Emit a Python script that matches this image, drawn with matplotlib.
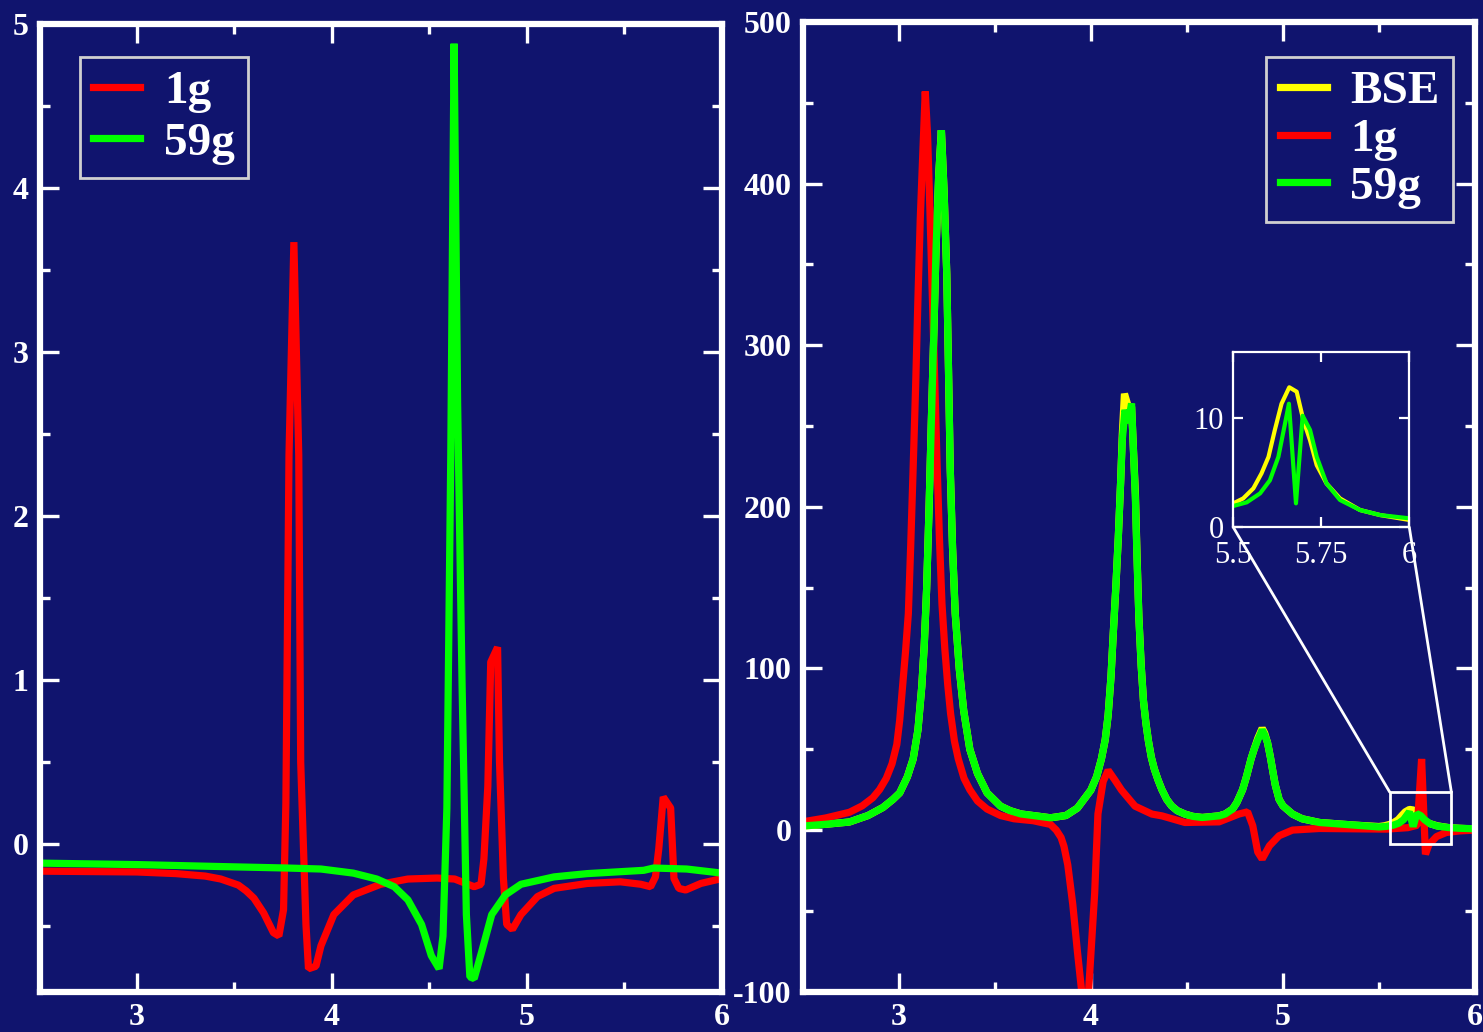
import matplotlib

matplotlib.use("Agg")
import matplotlib.pyplot as plt
from matplotlib.ticker import MultipleLocator
from matplotlib.patches import Rectangle, ConnectionPatch

# ---- left panel data
left_1g_x = [2.5, 2.8, 3.0, 3.2, 3.35, 3.43, 3.52, 3.56, 3.60, 3.65, 3.70,
             3.728, 3.752, 3.764, 3.78, 3.805, 3.83, 3.84, 3.867, 3.88, 3.918,
             3.944, 4.01, 4.11, 4.25, 4.39, 4.54, 4.63, 4.73, 4.765, 4.78,
             4.80, 4.815, 4.85, 4.86, 4.88, 4.897, 4.926, 4.97, 5.055, 5.14,
             5.31, 5.48, 5.585, 5.635, 5.66, 5.677, 5.70, 5.738, 5.755, 5.78,
             5.815, 5.893, 6.0]
left_1g_y = [-0.165, -0.168, -0.17, -0.18, -0.195, -0.213, -0.25, -0.285, -0.33, -0.42, -0.54,
             -0.56, -0.40, 0.25, 2.37, 3.67, 2.37, 0.50, -0.49, -0.76, -0.745,
             -0.62, -0.43, -0.31, -0.245, -0.213, -0.207, -0.213, -0.26, -0.245, -0.09,
             0.35, 1.11, 1.20, 0.50, -0.21, -0.49, -0.52, -0.43, -0.32, -0.27,
             -0.24, -0.23, -0.245, -0.26, -0.2, -0.03, 0.287, 0.22, -0.21, -0.27,
             -0.28, -0.24, -0.21]

left_59g_x = [2.5, 3.0, 3.43, 3.77, 3.944, 4.11, 4.23, 4.32, 4.39, 4.46,
              4.51, 4.55, 4.57, 4.59, 4.61, 4.627, 4.645, 4.668, 4.69, 4.708,
              4.73, 4.77, 4.82, 4.89, 4.97, 5.14, 5.31, 5.6, 5.65, 5.82,
              6.0]
left_59g_y = [-0.116, -0.125, -0.137, -0.146, -0.152, -0.177, -0.213, -0.26, -0.34, -0.49,
              -0.68, -0.76, -0.56, 0.22, 2.37, 4.88, 2.69, 0.97, -0.43, -0.81,
              -0.82, -0.65, -0.43, -0.31, -0.245, -0.2, -0.18, -0.16, -0.146, -0.152,
              -0.177]

# ---- right panel data
right_bse_x = [2.5, 2.62, 2.743, 2.84, 2.918, 2.97, 3.005, 3.045, 3.075, 3.10,
               3.12, 3.133, 3.145, 3.158, 3.17, 3.182, 3.194, 3.208, 3.222, 3.236,
               3.25, 3.259, 3.268, 3.28, 3.294, 3.315, 3.338, 3.37, 3.41, 3.46,
               3.53, 3.58, 3.635, 3.79, 3.87, 3.93, 4.0, 4.03, 4.055, 4.075,
               4.09, 4.105, 4.116, 4.13, 4.143, 4.155, 4.164, 4.175, 4.195, 4.212,
               4.232, 4.24, 4.25, 4.262, 4.274, 4.287, 4.30, 4.315, 4.33, 4.35,
               4.37, 4.395, 4.42, 4.45, 4.49, 4.53, 4.58, 4.668, 4.70, 4.738,
               4.76, 4.79, 4.81, 4.834, 4.85, 4.87, 4.892, 4.905, 4.92, 4.935,
               4.948, 4.96, 4.98, 5.0, 5.05, 5.1, 5.19, 5.37,
               5.5, 5.528, 5.557, 5.58, 5.6, 5.618, 5.637, 5.659, 5.68, 5.699,
               5.718, 5.737, 5.765, 5.803, 5.86, 5.917, 6.0]
right_bse_y = [2.5, 3.6, 5, 9, 14, 19, 23, 33, 44, 62,
               89, 115, 149, 200, 254, 305, 359, 405, 433, 395,
               344, 285, 224, 175, 134, 100, 74, 50, 35, 23,
               14.8, 12, 10, 7.6, 9, 13.6, 24.7, 33, 44, 56,
               71, 95, 120, 150, 181, 215, 245, 270, 262, 262,
               208, 172, 132, 102, 80, 66, 55, 45, 38, 31,
               25, 19, 15, 12, 9.9, 8.5, 7.8, 8.8, 10, 13,
               17, 25, 33, 44, 50, 57, 63, 60, 54, 45,
               36, 28, 19, 15, 9.9, 7, 4.7, 3.1,
               2.19, 2.64, 3.56, 4.92, 6.44, 8.9, 11.3, 12.8, 12.4, 9.8,
               7.96, 5.68, 4.0, 2.64, 1.58, 1.12, 0.67]

right_1g_x = [2.5, 2.62, 2.743, 2.81, 2.865, 2.90, 2.935, 2.965, 2.99, 3.005,
              3.02, 3.035, 3.05, 3.062, 3.075, 3.088, 3.10, 3.112, 3.125, 3.138,
              3.15, 3.162, 3.175, 3.188, 3.20, 3.212, 3.225, 3.24, 3.255, 3.27,
              3.29, 3.31, 3.34, 3.37, 3.41, 3.46, 3.53, 3.60, 3.70, 3.75,
              3.79, 3.82, 3.845, 3.86, 3.88, 3.906, 3.93, 3.958, 3.985, 4.02,
              4.037, 4.064, 4.09, 4.125, 4.16, 4.23, 4.318, 4.37, 4.49, 4.668,
              4.77, 4.816, 4.843, 4.869, 4.892, 4.93, 4.98, 5.05, 5.19, 5.54,
              5.65, 5.70, 5.722, 5.742, 5.76, 5.80, 5.85, 5.92, 6.0]
right_1g_y = [5.1, 7.5, 11, 15, 20, 25, 32, 41, 53, 68,
              89, 110, 134, 175, 224, 275, 329, 378, 418, 457,
              430, 385, 330, 275, 225, 180, 140, 112, 90, 72,
              55, 44, 32, 25, 18, 13, 9, 7, 5.8, 4.5,
              3.5, 0, -4.6, -10, -21.6, -46, -75, -106, -106, -39,
              10, 30, 37, 31, 24.7, 14.8, 9.9, 8.8, 4.7, 5.1,
              9.9, 11.3, 2.7, -13.6, -17.9, -9.7, -3.5, 0, 1, 0.6,
              1.5, 3, 44, -15, -9, -4, -1.5, -0.5, 0]

right_59g_x = [2.5, 2.62, 2.743, 2.84, 2.918, 2.97, 3.005, 3.045, 3.075, 3.10,
               3.12, 3.133, 3.145, 3.158, 3.17, 3.182, 3.194, 3.208, 3.222, 3.236,
               3.25, 3.259, 3.268, 3.28, 3.294, 3.315, 3.338, 3.37, 3.41, 3.46,
               3.53, 3.58, 3.635, 3.79, 3.87, 3.93, 4.0, 4.03, 4.055, 4.075,
               4.09, 4.105, 4.116, 4.13, 4.143, 4.155, 4.164, 4.178, 4.195, 4.212,
               4.232, 4.24, 4.25, 4.262, 4.274, 4.287, 4.30, 4.315, 4.33, 4.35,
               4.37, 4.395, 4.42, 4.45, 4.49, 4.53, 4.58, 4.668, 4.70, 4.738,
               4.76, 4.79, 4.81, 4.834, 4.85, 4.87, 4.892, 4.905, 4.92, 4.935,
               4.948, 4.96, 4.98, 5.0, 5.05, 5.1, 5.19, 5.37,
               5.5, 5.538, 5.576, 5.604, 5.628, 5.647, 5.658, 5.678, 5.697, 5.718,
               5.737, 5.765, 5.803, 5.86, 5.917, 6.0]
right_59g_y = [2.5, 3.6, 5, 9, 14, 19, 23, 33, 44, 62,
               89, 115, 149, 200, 254, 305, 359, 405, 433, 395,
               344, 285, 224, 175, 134, 100, 74, 50, 35, 23,
               14.8, 12, 10, 7.6, 9, 13.6, 24.7, 33, 44, 56,
               71, 95, 120, 150, 181, 215, 242, 260, 252, 264,
               205, 170, 132, 102, 80, 66, 55, 45, 38, 31,
               25, 19, 15, 12, 9.9, 8.5, 7.8, 8.8, 10, 13,
               17, 25, 33, 44, 50, 56, 62, 59, 54, 45,
               36, 28, 19, 15, 9.9, 7, 4.7, 3.1,
               1.95, 2.28, 3.1, 4.3, 6.44, 9.5, 11.3, 2.19, 10.2, 8.9,
               6.44, 4.0, 2.5, 1.58, 1.12, 0.82]

BG = "#10146e"
RED = "#ff0000"
GREEN = "#00ff00"
YELLOW = "#ffff00"
LW = 5.2

plt.rcParams["font.family"] = "Liberation Serif"
plt.rcParams["font.weight"] = "bold"
plt.rcParams["axes.unicode_minus"] = False

fig = plt.figure(figsize=(14.83, 10.32), dpi=100)
fig.patch.set_facecolor(BG)


def style(ax, ymajor, yminor):
    ax.set_facecolor(BG)
    for s in ax.spines.values():
        s.set_color("white")
        s.set_linewidth(4.5)
    ax.xaxis.set_major_locator(MultipleLocator(1))
    ax.xaxis.set_minor_locator(MultipleLocator(0.5))
    ax.yaxis.set_major_locator(MultipleLocator(ymajor))
    ax.yaxis.set_minor_locator(MultipleLocator(yminor))
    ax.tick_params(which="both", direction="in", top=True, right=True,
                   colors="white", labelsize=23, pad=8)
    ax.tick_params(which="major", length=14, width=2.4)
    ax.tick_params(which="minor", length=7, width=2.4)


ax1 = fig.add_axes([0.02664, 0.03905, 0.46002, 0.93769])
style(ax1, 1, 0.5)
ax1.plot(left_1g_x, left_1g_y, color=RED, lw=LW, solid_joinstyle="bevel", label="1g")
ax1.plot(left_59g_x, left_59g_y, color=GREEN, lw=LW, solid_joinstyle="bevel", label="59g")
ax1.set_xlim(2.5, 6)
ax1.set_ylim(-0.9, 5)

ax2 = fig.add_axes([0.54127, 0.03905, 0.45334, 0.93963])
style(ax2, 100, 50)
ax2.plot(right_bse_x, right_bse_y, color=YELLOW, lw=LW, solid_joinstyle="bevel", label="BSE")
ax2.plot(right_1g_x, right_1g_y, color=RED, lw=LW, solid_joinstyle="bevel", label="1g")
ax2.plot(right_59g_x, right_59g_y, color=GREEN, lw=LW, solid_joinstyle="bevel", label="59g")
ax2.set_xlim(2.5, 6)
ax2.set_ylim(-100, 500)

legend_font = {"family": "Liberation Serif", "weight": "bold", "size": 34}
for ax, loc, anchor, spacing in [(ax1, "upper left", (80 / 1483, 1 - 57 / 1032), 0.18),
                                 (ax2, "upper right", (1453 / 1483, 1 - 57 / 1032), 0.1)]:
    leg = ax.legend(loc=loc, bbox_to_anchor=anchor, bbox_transform=fig.transFigure,
                    prop=legend_font, fancybox=False, framealpha=1, facecolor=BG,
                    edgecolor="#d0d0d0", borderpad=0.28, labelspacing=spacing,
                    handlelength=1.0, handletextpad=0.5, borderaxespad=0)
    leg.get_frame().set_linewidth(2)
    for t in leg.get_texts():
        t.set_color("white")

# zoom box and inset
x0, x1, y0, y1 = 5.556, 5.877, -8.6, 23.5
ax2.add_patch(Rectangle((x0, y0), x1 - x0, y1 - y0, fill=False, edgecolor="white",
                        lw=2, zorder=5))

axins = fig.add_axes([0.83163, 0.48905, 0.11868, 0.16957])
axins.set_facecolor(BG)
for s in axins.spines.values():
    s.set_color("white")
    s.set_linewidth(1.6)
axins.plot(right_bse_x, right_bse_y, color=YELLOW, lw=3)
axins.plot(right_59g_x, right_59g_y, color=GREEN, lw=3)
axins.set_xlim(5.5, 6)
axins.set_ylim(0, 16)
axins.set_xticks([5.5, 5.75, 6])
axins.set_xticklabels(["5.5", "5.75", "6"])
axins.set_yticks([0, 10])
axins.tick_params(direction="in", top=True, right=True, colors="white",
                  length=7, width=1.6, labelsize=22)
axins.tick_params(axis="x", pad=10)
axins.tick_params(axis="y", pad=7)
for lab in axins.get_xticklabels() + axins.get_yticklabels():
    lab.set_fontweight("normal")

for xa, xb in [((x0, y1), (0, 0)), ((x1, y1), (1, 0))]:
    con = ConnectionPatch(xyA=xa, coordsA=ax2.transData, xyB=xb, coordsB=axins.transAxes,
                          color="white", lw=2)
    fig.add_artist(con)

plt.savefig("out.png", dpi=100, facecolor=BG)
